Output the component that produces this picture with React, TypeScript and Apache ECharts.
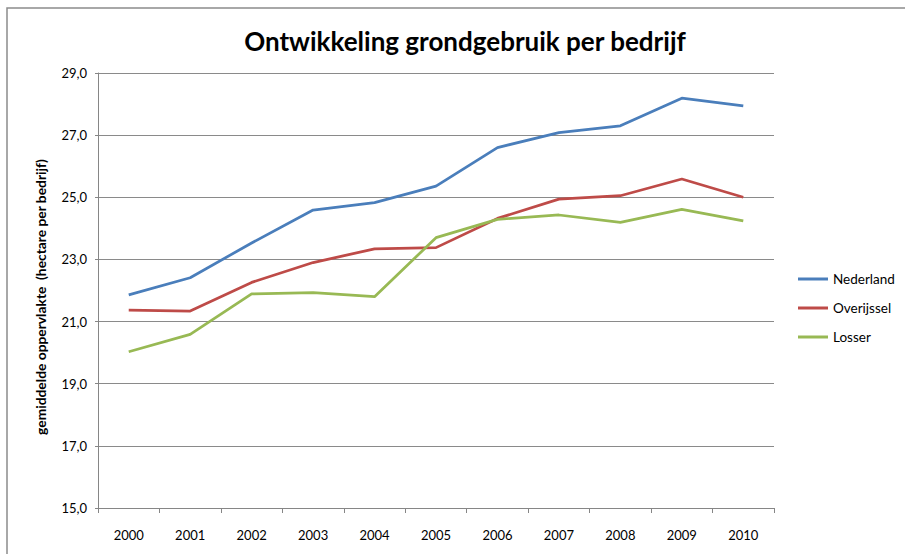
import React, { useEffect, useRef } from "react";
import * as echarts from "echarts";

const years = ["2000", "2001", "2002", "2003", "2004", "2005", "2006", "2007", "2008", "2009", "2010"];
const nederland = [21.86, 22.41, 23.53, 24.59, 24.83, 25.36, 26.6, 27.08, 27.3, 28.19, 27.94];
const overijssel = [21.37, 21.34, 22.26, 22.9, 23.34, 23.38, 24.32, 24.94, 25.05, 25.59, 25.0];
const losser = [20.03, 20.59, 21.89, 21.93, 21.8, 23.7, 24.29, 24.43, 24.19, 24.61, 24.24];
const seriesNames = ["Nederland", "Overijssel", "Losser"];
const titleText = "Ontwikkeling grondgebruik per bedrijf";
const yAxisName = "gemiddelde oppervlakte  (hectare per bedrijf)";

const FONT = "Lato, 'Open Sans', sans-serif";

export default function App() {
  const ref = useRef<HTMLDivElement>(null);
  useEffect(() => {
    if (!ref.current) return;
    const chart = echarts.init(ref.current, null, { renderer: "svg" });
    const colors = ["#4A7EBB", "#BE4B48", "#98B954"];
    const data = [nederland, overijssel, losser];
    chart.setOption({
      animation: false,
      backgroundColor: "#ffffff",
      textStyle: { fontFamily: FONT },
      grid: { left: 98, right: 131, top: 73, bottom: 46, containLabel: false },
      graphic: [
        {
          type: "rect",
          shape: { x: 7, y: 8, width: 930, height: 600 },
          style: { fill: "none", stroke: "#8c8c8c", lineWidth: 1.5 },
          silent: true,
        },
        {
          type: "text",
          x: 465,
          y: 41,
          style: {
            text: titleText,
            font: "bold 26px " + FONT,
            fill: "#000",
            align: "center",
            verticalAlign: "middle",
          },
        },
        {
          type: "text",
          x: 40,
          y: 297,
          rotation: Math.PI / 2,
          style: {
            text: yAxisName,
            font: "bold 13.8px " + FONT,
            fill: "#000",
            align: "center",
            verticalAlign: "middle",
          },
        },
      ],
      legend: {
        orient: "vertical",
        left: 798,
        top: 272,
        padding: 0,
        itemWidth: 30,
        itemHeight: 3,
        itemGap: 15,
        icon: "rect",
        textStyle: { fontSize: 13.5, color: "#000", fontFamily: FONT },
        data: seriesNames,
      },
      xAxis: {
        type: "category",
        data: years,
        boundaryGap: true,
        axisLine: { lineStyle: { color: "#868686", width: 1 } },
        axisTick: { show: true, length: 5, lineStyle: { color: "#868686" } },
        axisLabel: { color: "#000", fontSize: 13, margin: 20, fontFamily: FONT },
        splitLine: { show: false },
      },
      yAxis: {
        type: "value",
        min: 15,
        max: 29,
        interval: 2,
        axisLine: { show: true, lineStyle: { color: "#868686", width: 1 } },
        axisTick: { show: true, length: 3, lineStyle: { color: "#868686" } },
        axisLabel: {
          color: "#000",
          fontSize: 13,
          margin: 11,
          fontFamily: FONT,
          formatter: (v: number) => v.toFixed(1).replace(".", ","),
        },
        splitLine: { show: true, lineStyle: { color: "#8a8a8a", width: 1 } },
      },
      series: seriesNames.map((name, i) => ({
        name,
        type: "line",
        data: data[i],
        showSymbol: false,
        symbol: "none",
        lineStyle: { color: colors[i], width: 2.75 },
        itemStyle: { color: colors[i] },
      })),
    });
    return () => chart.dispose();
  }, []);
  return (
    <div
      ref={ref}
      style={{ position: "fixed", left: 0, top: 0, width: 905, height: 554 }}
    />
  );
}
